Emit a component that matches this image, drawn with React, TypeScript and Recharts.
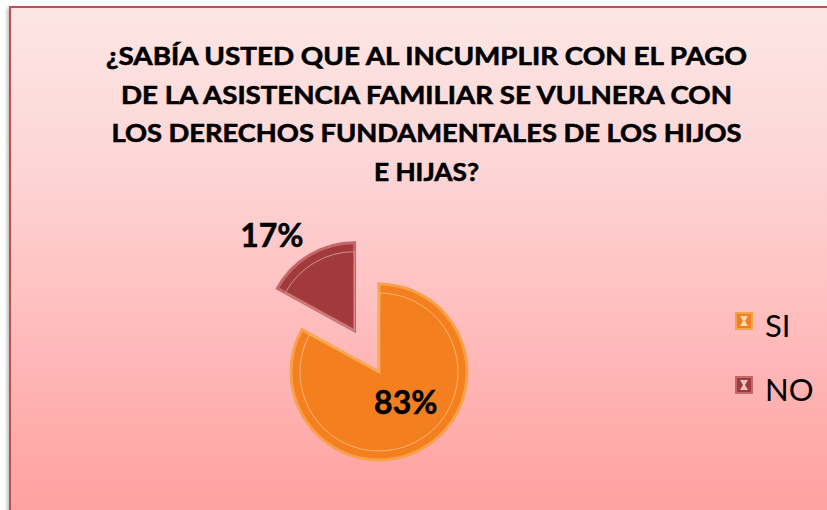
import React from 'react';
import { Cell, Legend, Pie, PieChart } from 'recharts';

// answers to the survey question
const categories = ['SI', 'NO'];
const shares = [83, 17];
const sliceColors = ['#f47f1f', '#a23a3d'];
const rimColors = ['#f7a24a', '#c4666a'];
const titleLines = [
  '¿SABÍA USTED QUE AL INCUMPLIR CON EL PAGO',
  'DE LA ASISTENCIA FAMILIAR SE VULNERA CON',
  'LOS DERECHOS FUNDAMENTALES DE LOS HIJOS',
  'E HIJAS?',
];

const data = categories.map((name, i) => ({ name, value: shares[i] }));

// chart margin is 5, so pie centre is given relative to that
const CX = 363;
const CY = 359;
const R = 88;
const EXPLODE = 48;
const TITLE_WIDTHS = [641, 611, 630, 105];

// mid angle of the exploded slice (NO), clockwise from 12 o'clock
const total = shares.reduce((a, b) => a + b, 0);
const noMid = 90 - 360 * (shares[0] + shares[1] / 2) / total;
const rad = (deg: number) => (deg * Math.PI) / 180;
const exCx = CX + EXPLODE * Math.cos(rad(noMid));
const exCy = CY - EXPLODE * Math.sin(rad(noMid));

const pct = (p: number) => `${Math.round(p * 100)}%`;

const labelFor = (idx: number, radiusFn: (r: number) => number, angleShift: number) => (props: any) => {
  if (props.index !== idx) return null;
  const a = rad(props.midAngle + angleShift);
  const r = radiusFn(props.outerRadius);
  const x = props.cx + r * Math.cos(a);
  const y = props.cy - r * Math.sin(a);
  return (
    <text
      x={x}
      y={y}
      textAnchor="middle"
      dominantBaseline="central"
      fontFamily="Lato, 'Open Sans', sans-serif"
      fontWeight={700}
      fontSize={32}
      fill="#000"
      stroke="#000"
      strokeWidth={0.5}
    >
      {pct(props.percent)}
    </text>
  );
};

const LegendBox = () => (
  <div>
    {categories.map((name, i) => (
      <div key={name} style={{ position: 'relative', height: 64 }}>
        <div
          style={{
            position: 'absolute',
            left: 0,
            top: 0,
            width: 18,
            height: 18,
            background: sliceColors[i],
            boxShadow: `inset 0 0 0 2px ${rimColors[i]}`,
          }}
        >
          <svg width={18} height={18} style={{ position: 'absolute', left: 0, top: 0 }}>
            <path d="M5 4 L13 4 L10 9 L13 14 L5 14 L8 9 Z" fill="#fff" fillOpacity={0.7} />
          </svg>
        </div>
        <span
          style={{
            position: 'absolute',
            left: 30,
            top: -2,
            fontFamily: "Lato, 'Open Sans', sans-serif",
            fontSize: 31,
            lineHeight: '31px',
            color: '#000',
            whiteSpace: 'nowrap',
          }}
        >
          {name}
        </span>
      </div>
    ))}
  </div>
);

export default function App() {
  return (
    <div style={{ position: 'relative', width: 827, height: 510, background: '#fff', overflow: 'hidden' }}>
      <style>{'body{margin:0;overflow:hidden}'}</style>
      <div
        style={{
          position: 'absolute',
          left: 9,
          top: 6,
          width: 840,
          height: 520,
          border: '2px solid #c0504d',
          boxShadow: '-2px 2px 3px rgba(0,0,0,0.25)',
          background: 'linear-gradient(to bottom, #fce6e4 0%, #fdd6d6 30%, #ffb9b9 65%, #ff9e9e 100%)',
        }}
      >
        <PieChart width={840} height={520}>
          <g>
            {titleLines.map((line, i) => (
              <text
                key={i}
                x={415.5}
                y={57 + i * 38.5}
                textAnchor="middle"
                fontFamily="Lato, 'Open Sans', sans-serif"
                fontWeight={700}
                fontSize={24}
                textLength={TITLE_WIDTHS[i]}
                lengthAdjust="spacingAndGlyphs"
                fill="#000"
                stroke="#000"
                strokeWidth={0.6}
              >
                {line}
              </text>
            ))}
          </g>
          {/* main body (SI) */}
          <Pie
            data={data}
            dataKey="value"
            cx={CX}
            cy={CY}
            outerRadius={R}
            startAngle={90}
            endAngle={-270}
            isAnimationActive={false}
            labelLine={false}
            label={labelFor(0, (r) => r * 0.45, 12)}
          >
            {data.map((d, i) => (
              <Cell
                key={d.name}
                fill={i === 0 ? sliceColors[0] : 'none'}
                stroke={i === 0 ? rimColors[0] : 'none'}
                strokeWidth={3}
              />
            ))}
          </Pie>
          <Pie
            data={data}
            dataKey="value"
            cx={CX}
            cy={CY}
            outerRadius={R - 9}
            startAngle={90}
            endAngle={-270}
            isAnimationActive={false}
            label={false}
          >
            {data.map((d, i) => (
              <Cell key={d.name} fill="none" stroke={i === 0 ? '#f9b46e' : 'none'} strokeWidth={1} />
            ))}
          </Pie>
          {/* exploded slice (NO) */}
          <Pie
            data={data}
            dataKey="value"
            cx={exCx}
            cy={exCy}
            outerRadius={R}
            startAngle={90}
            endAngle={-270}
            isAnimationActive={false}
            labelLine={false}
            label={labelFor(1, (r) => r + 39, 10)}
          >
            {data.map((d, i) => (
              <Cell
                key={d.name}
                fill={i === 1 ? sliceColors[1] : 'none'}
                stroke={i === 1 ? rimColors[1] : 'none'}
                strokeWidth={3}
              />
            ))}
          </Pie>
          <Pie
            data={data}
            dataKey="value"
            cx={exCx}
            cy={exCy}
            outerRadius={R - 9}
            startAngle={90}
            endAngle={-270}
            isAnimationActive={false}
            label={false}
          >
            {data.map((d, i) => (
              <Cell key={d.name} fill="none" stroke={i === 1 ? '#d98a8c' : 'none'} strokeWidth={1} />
            ))}
          </Pie>
          <Legend
            layout="vertical"
            content={() => <LegendBox />}
            wrapperStyle={{ left: 724, top: 304, width: 100 }}
          />
        </PieChart>
      </div>
    </div>
  );
}
